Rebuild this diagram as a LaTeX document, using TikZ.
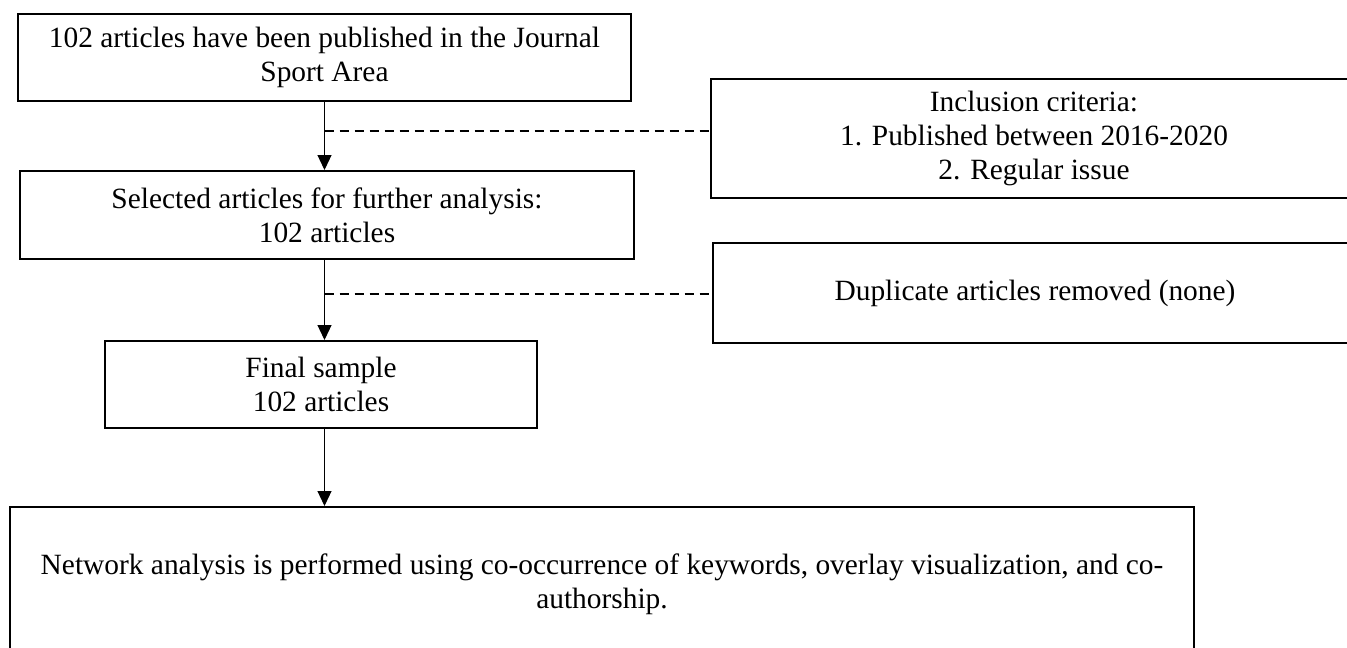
\documentclass[tikz,border=0pt]{standalone}
\usepackage{fontspec}
\setmainfont{Liberation Serif}
\usetikzlibrary{arrows.meta}

\begin{document}
\begin{tikzpicture}[x=0.5pt, y=-0.5pt,
    box/.style={draw, line width=1pt, align=center, inner sep=0pt,
        font=\fontsize{14.7}{17}\selectfont},
    flow/.style={-{Triangle[length=7.5pt, width=7pt]}, line width=0.6pt},
    side/.style={line width=0.6pt, dash pattern=on 4.5pt off 3pt}]
    \useasboundingbox (0,0) rectangle (1347,647);
    \clip (0,0) rectangle (1347,647);

    \node[box, minimum width=306.5pt, minimum height=43.5pt] (pub) at (324.5,57.5)
        {102 articles have been published in the Journal\\Sport Area};
    \node[box, minimum width=307pt, minimum height=44pt] (sel) at (327,215)
        {Selected articles for further analysis:\\102 articles};
    \node[box, minimum width=216pt, minimum height=43.5pt] (fin) at (321,384.5)
        {Final sample\\102 articles};
    \node[box, minimum width=592pt, minimum height=77pt] (net) at (602,584)
        {Network analysis is performed using co-occurrence of keywords, overlay visualization, and co-\\authorship.};

    \node[box, minimum width=323pt, minimum height=59.5pt] (inc) at (1034,138.5)
        {Inclusion criteria:\\1. Published between 2016-2020\\2. Regular issue};
    \node[box, minimum width=322pt, minimum height=50pt] (dup) at (1035,293)
        {Duplicate articles removed (none)};

    \draw[flow] (pub.south) -- (pub.south |- sel.north);
    \draw[flow] (pub.south |- sel.south) -- (pub.south |- fin.north);
    \draw[flow] (pub.south |- fin.south) -- (pub.south |- net.north);

    \coordinate (d1) at (324.5,131);
    \coordinate (d2) at (324.5,294);
    \draw[side] (d1) -- (d1 -| inc.west);
    \draw[side] (d2) -- (d2 -| dup.west);
\end{tikzpicture}
\end{document}
